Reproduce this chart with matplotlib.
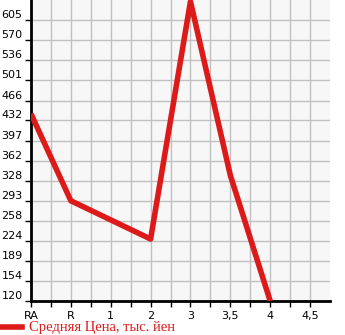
import numpy as np
import matplotlib.pyplot as plt

# ---- data ----
categories = ["RA", "R", "1", "2", "3", "3,5", "4", "4,5"]
prices = [443, 293, 260, 227, 637, 337, 120, None]
y_ticks = [120, 154, 189, 224, 258, 293, 328, 362, 397, 432, 466, 501, 536, 570, 605]

red = "#dd1a1a"

fig = plt.figure(figsize=(3.45, 3.35), dpi=100)
ax = fig.add_axes([31 / 345, 34 / 335, 299 / 345, 301 / 335])
ax.set_facecolor("#f7f7f7")

# ---- line (skip missing values) ----
xs = [i for i, v in enumerate(prices) if v is not None]
ys = [v for v in prices if v is not None]
ax.plot(xs, ys, color=red, lw=4, solid_capstyle="butt", zorder=3)

# ---- axes / grid ----
step = (605 - 120) / 14
ax.set_xlim(0, 7.5)
ax.set_ylim(120, 120 + 15 * step)
ax.set_xticks(range(len(categories)))
ax.set_xticklabels(categories)
ax.set_xticks(np.arange(0.5, 7.5, 1.0), minor=True)
ax.set_yticks(y_ticks)
ax.set_yticklabels([str(t) for t in y_ticks])
ax.grid(True, which="both", color="#c0c0c0", lw=1)
ax.set_axisbelow(True)

for side in ["top", "right"]:
    ax.spines[side].set_visible(False)
ax.spines["left"].set_linewidth(2)
ax.spines["bottom"].set_linewidth(2)

ax.tick_params(axis="both", which="both", length=4, width=1, labelsize=8, pad=2)
ax.tick_params(axis="x", which="major", pad=3)
for lab in ax.get_yticklabels():
    lab.set_verticalalignment("bottom")

# ---- legend ----
fig.lines.append(plt.Line2D([0, 22 / 345], [8 / 335, 8 / 335], color=red, lw=4,
                            transform=fig.transFigure))
fig.text(29 / 345, 8 / 335, "Средняя Цена, тыс. йен", color=red, fontsize=10.5,
         family="Liberation Serif", va="center", ha="left")

fig.savefig("out.png", dpi=100)
